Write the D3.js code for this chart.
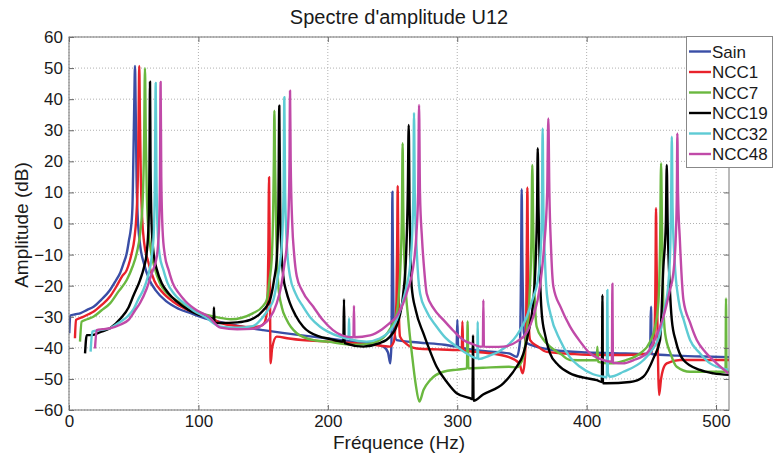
<!DOCTYPE html>
<html><head><meta charset="utf-8">
<script src="https://cdn.jsdelivr.net/npm/d3@7"></script>
<style>
html,body{margin:0;padding:0;background:#fff;}
text{font-family:Arial,"Liberation Sans",sans-serif;fill:#1a1a1a;}
</style></head>
<body><svg id="chart" width="774" height="455"></svg>
<script>
const titleText = "Spectre d'amplitude U12";
const xLabel = "Fréquence (Hz)";
const yLabel = "Amplitude (dB)";
const xTicks = [0,100,200,300,400,500];
const yTicks = [-60,-50,-40,-30,-20,-10,0,10,20,30,40,50,60];
const seriesNames = ["Sain","NCC1","NCC7","NCC19","NCC32","NCC48"];
const seriesColors = ["#3a4ea6","#e8222b","#6ab83f","#000000","#5ecbd4","#c04aa8"];

// [frequency (Hz), amplitude (dB)]
const sain = [[0.2,-35.3],[1,-29.6],[5,-29.2],[9,-28.8],[14,-27.8],[19,-26.8],[25,-24.5],[31.7,-21.4],[36,-18.5],[39.4,-16],[42,-13],[44.6,-9.6],[46.5,-5],[47.7,-2],[49,5],[49.7,20],[50.4,38],[51,50.7],[51.5,38],[52.2,15],[53,3],[55,-7],[58,-13],[62,-18],[67,-21.5],[75,-25],[85,-27.5],[95,-29],[105,-30.5],[115,-31.5],[125,-32.5],[135,-33.3],[150,-34.3],[165,-35.2],[180,-36],[200,-37],[220,-38],[235,-38.8],[243,-39.6],[246.5,-41.5],[248.3,-45],[249.2,-38],[249.6,-10],[249.9,10.2],[250.3,-10],[251,-33],[253.2,-37.5],[270,-38.3],[290,-39],[299.5,-39.6],[300.1,-31],[300.7,-39.7],[320,-41],[340,-41.8],[346,-42.9],[348.5,-38],[349.4,-10],[349.8,11],[350.3,-10],[351.5,-35],[353.7,-38.5],[374,-40.7],[400,-41.5],[430,-41.8],[449,-42],[449.5,-30],[449.8,-26.8],[450.2,-42],[470,-42.5],[490,-42.8],[510,-43]];
const ncc1 = [[4.6,-36.9],[5.4,-31],[10,-30.2],[15,-29.2],[18.8,-28.4],[25,-26.3],[31.7,-23.5],[37,-20],[41,-17],[44.6,-15],[47,-12],[48.4,-9.6],[50.5,-5],[52,2],[53.2,15],[53.8,35],[54.3,50.7],[54.8,35],[55.5,15],[56.5,2],[58,-6],[61,-12],[66,-18.5],[72,-22],[80,-25],[90,-27.5],[100,-29],[110,-30.5],[117,-32],[130,-33],[142,-33.3],[148,-33],[151,-32],[153,-28],[154,-10],[154.6,14.9],[155.1,-10],[155.8,-45],[157,-40],[160.5,-36.4],[170,-37],[180,-37.5],[200,-38],[220,-38.5],[235,-39],[248,-39.6],[251,-38],[253,-25],[253.6,-5],[254,12.1],[254.4,-5],[255,-30],[255.8,-36.4],[260,-38.5],[268.7,-40.2],[285,-40.5],[303.5,-40.7],[304,-31.5],[304.6,-40.8],[320,-41.5],[340,-43],[348,-45],[350.5,-48.2],[352,-45],[353.3,-30],[353.8,-5],[354.2,11.6],[354.6,-5],[355.3,-32],[356.3,-37.5],[362,-39.5],[369.2,-41.3],[390,-42],[407.8,-42.3],[430,-42.3],[449,-41.8],[452,-38],[453,-24.6],[453.3,-10],[453.6,4.9],[454,-10],[454.8,-35],[456,-55.2],[457.5,-50],[459,-47],[461.9,-45],[472.2,-43.9],[490,-43.9],[510,-43.9]];
const ncc7 = [[8.5,-38],[9.8,-31.6],[14,-30.8],[18.8,-30],[25,-28],[31.7,-25.7],[38,-22],[44.6,-18.2],[49,-14],[52.3,-9.6],[55,-3],[57,8],[58,25],[58.7,50],[59.3,30],[60,12],[61,0],[63,-8],[66,-14],[70,-19],[76,-22.5],[84,-25],[93,-27.3],[103,-29],[115,-30.2],[125,-30.8],[142,-28.9],[150,-26.5],[152.8,-24.6],[155,-18],[156.6,-11.7],[157.8,5],[158.3,20],[158.7,36.3],[159.2,20],[160,0],[161.8,-20.3],[164.5,-27],[168.2,-31],[176,-35.3],[188.8,-37.5],[200,-38],[220,-39],[230,-38.8],[240.3,-37.5],[248,-34],[253.2,-28.9],[256.3,-11.7],[257.3,5],[257.8,25.8],[258.3,5],[259.5,-15],[262.2,-31],[265,-42],[268,-52],[270.7,-57.3],[274,-53.5],[279,-50.4],[289.3,-47.7],[300,-47],[307.5,-46.6],[308,-31.5],[308.6,-46.6],[320,-46.4],[340,-46.1],[346,-46.3],[351,-43],[353.5,-35.3],[356,-22],[357.3,-5],[358,18.8],[358.7,0],[359.6,-20],[361.4,-33.2],[366,-37],[371.7,-39.6],[380,-42],[387.2,-43.9],[400,-44],[407.8,-44],[408.3,-39.6],[408.8,-44.5],[418.1,-45],[430,-44],[441.3,-41.8],[449,-38],[453,-33],[455.5,-25],[456.8,-5],[457.5,19.4],[458.2,0],[459.2,-25],[460.6,-35.3],[465,-42],[469.6,-46.1],[479.9,-47.7],[495,-47.7],[507.3,-47.7],[507.7,-24.1],[508.1,-47.7],[510,-47.7]];
const ncc19 = [[12.4,-41.8],[13.7,-35.9],[17.5,-35.9],[25,-34.8],[31.7,-33.7],[40,-30.5],[46,-27],[50,-23],[54.9,-18.2],[58,-14],[60,-9.6],[61.5,0],[62.2,20],[62.6,45.6],[63,20],[63.8,0],[65.5,-10],[68,-15],[72,-19.5],[77,-22.5],[83,-25],[92,-27.7],[100,-29.3],[110,-30.5],[111.8,-31],[112,-27],[112.4,-32],[117,-32],[130,-31.8],[140,-31],[150,-28],[155.3,-24.6],[158.5,-18],[160.5,-11.7],[161.8,5],[162.5,37.9],[163.2,5],[164.3,-10],[165.6,-17],[168,-22],[170.8,-25.7],[175,-29.5],[181,-33.2],[193.8,-36.4],[200,-37],[212,-38],[212.5,-24.4],[213,-38.5],[227.4,-39.6],[240,-38.5],[248,-36.4],[254,-32],[258.3,-22.5],[260.5,-10],[261.8,10],[262.5,31.7],[263.2,5],[264,-12],[264.8,-20.3],[268,-28],[273.8,-35.3],[278,-40],[284.1,-46.1],[292,-51],[299.6,-54.6],[309.9,-56.2],[311.8,-56.5],[312.2,-36],[312.6,-57],[320,-55],[335.6,-51.4],[346,-46],[351,-42],[355,-35],[358.8,-24.6],[360.8,-10],[361.7,5],[362.2,24.2],[362.8,5],[363.8,-15],[365.3,-28.9],[368,-36],[371.7,-41.8],[378,-45.5],[387.2,-48.2],[398,-49.6],[407.8,-50.4],[411.8,-51],[412.2,-23],[412.6,-51.4],[415.5,-51.4],[433.5,-51],[443.8,-49.3],[452,-43],[456.7,-37.5],[459.3,-13.9],[461.2,0],[461.9,18.8],[462.6,0],[464.2,-20],[465.8,-31],[469,-38],[474.8,-43.9],[487.6,-47.1],[498,-48.2],[510,-48.7]];
const ncc32 = [[16.7,-41.2],[18,-34.8],[24,-34.3],[31.7,-33.7],[40,-31.5],[45,-30],[50,-27.5],[54,-24],[57.4,-21.4],[61,-17],[63.9,-10.7],[65.5,-3],[66.4,15],[67,45.2],[67.6,15],[68.5,-2],[70,-10],[73,-15],[76,-19],[81,-22.5],[87,-25],[96,-28],[105,-30],[117,-33.2],[130,-33.5],[142,-33],[150,-30],[155,-27],[157.9,-24.6],[161,-18],[164.3,-7.5],[165.8,10],[166.4,40.6],[167,10],[168.5,-8],[170.8,-17],[175,-22.5],[181,-26.8],[187,-30.5],[194,-33.2],[200,-34.8],[209.4,-36.4],[216,-37],[216.4,-30.5],[216.8,-37.2],[230,-38],[240,-37],[248,-34.5],[253.2,-31],[258,-25],[261.5,-19],[263.5,-13.9],[265.5,0],[266.1,10],[266.6,35.6],[267.2,10],[268.3,-5],[269.5,-15],[271.3,-22.5],[276,-28],[284.1,-33.2],[291,-36.8],[299.6,-39.6],[308,-42],[315.5,-43.4],[315.8,-31.6],[316.2,-43.6],[325,-42.5],[333,-41],[346,-36],[353.7,-30],[358.5,-24],[362.7,-17],[364.8,-6],[365.5,8],[366,30.6],[366.6,5],[367.8,-12],[369.2,-22.5],[372,-29],[379.4,-37.5],[387,-43],[394.9,-46.1],[405,-48.5],[413,-49.3],[415.6,-49.5],[416,-21.4],[416.4,-48],[418,-49.3],[428.4,-47.7],[443.8,-44],[450,-41],[456.7,-35.3],[460.5,-27],[463.2,-19.2],[464.8,-5],[465.3,8],[465.8,27.9],[466.4,5],[468,-12],[471,-24.6],[475,-31],[479.9,-37.5],[487,-41.5],[495.4,-45],[509.5,-47]];
const ncc48 = [[20.1,-40.2],[21.4,-34.3],[26,-34],[31.7,-33.7],[40,-32.5],[46,-31],[51,-28],[55,-25.5],[60,-21],[64,-16],[67.8,-10.7],[69.5,-2],[70.3,15],[70.8,45.5],[71.3,15],[72.3,-2],[74,-10],[77,-15],[80,-19],[85,-22.5],[90,-25],[99,-28],[108,-30],[117,-33.5],[130,-34],[142,-33.9],[150,-32.5],[155,-30.5],[160.5,-25.7],[164,-20],[166.5,-13],[168.2,-7.5],[169.8,5],[170.4,20],[170.8,42.7],[171.3,20],[172.5,0],[174,-10],[176,-17],[180,-21.5],[188.8,-26.8],[196,-31],[204,-34.3],[214.6,-36.4],[219.8,-36.6],[220.2,-26.5],[220.6,-36.6],[232.6,-36],[242,-34],[248,-32],[253,-30],[258,-26],[262,-21],[266,-13.9],[268.5,-3],[269.8,10],[270.5,38.1],[271.2,10],[272.8,-5],[274.5,-15],[276.4,-22.5],[282,-27.5],[289.3,-31],[297,-34.5],[304.7,-37.5],[312,-38.8],[317.6,-39.6],[319.8,-39.6],[320.2,-24.6],[320.6,-39.6],[328,-39.7],[335.6,-39.6],[346,-38],[353.7,-35],[358.8,-30],[364,-20],[367,-8],[369.5,10],[370.4,33.8],[371.2,10],[372.5,-8],[374.3,-20.3],[380,-27],[387.2,-33.2],[395,-38],[402.6,-41.8],[410,-43.5],[419.5,-44.5],[419.9,-19.4],[420.3,-44.8],[428,-45],[436,-44],[446.4,-41.8],[453,-37],[459.3,-30],[464,-22],[467,-16],[469,-3],[469.7,10],[470.1,29],[470.6,10],[472,-5],[474.8,-24.6],[480,-32],[485.1,-37.5],[492,-41.5],[500.5,-45],[509.5,-48.2]];
const seriesData = [sain, ncc1, ncc7, ncc19, ncc32, ncc48];

const svg = d3.select("#chart");
const L = 69, R = 729, T = 37, B = 410;
const x = d3.scaleLinear().domain([0,510]).range([L,R]);
const y = d3.scaleLinear().domain([-60,60]).range([B,T]);

// grid
const grid = svg.append("g");
grid.selectAll("line.v").data(xTicks).join("line")
  .attr("x1",d=>x(d)).attr("x2",d=>x(d)).attr("y1",T).attr("y2",B)
  .attr("stroke","#b0b0b0").attr("stroke-width",1).attr("stroke-dasharray","1,2");
grid.selectAll("line.h").data(yTicks).join("line")
  .attr("x1",L).attr("x2",R).attr("y1",d=>y(d)).attr("y2",d=>y(d))
  .attr("stroke","#b0b0b0").attr("stroke-width",1).attr("stroke-dasharray","1,2");

// clip
svg.append("clipPath").attr("id","clip").append("rect")
  .attr("x",L).attr("y",T).attr("width",R-L).attr("height",B-T);

const line = d3.line().x(d=>x(d[0])).y(d=>y(d[1])).curve(d3.curveMonotoneX);
const lines = svg.append("g").attr("clip-path","url(#clip)");
seriesData.forEach((s,i)=>{
  lines.append("path").datum(s).attr("d",line)
    .attr("fill","none").attr("stroke",seriesColors[i])
    .attr("stroke-width",2.4).attr("stroke-linejoin","round");
});

// axes
const fs = 17;
const xAxis = svg.append("g").attr("transform",`translate(0,${B})`)
  .call(d3.axisBottom(x).tickValues(xTicks).tickFormat(d3.format("d")).tickSize(-5).tickPadding(5));
const yAxis = svg.append("g").attr("transform",`translate(${L},0)`)
  .call(d3.axisLeft(y).tickValues(yTicks).tickFormat(d3.format("d")).tickSize(-5).tickPadding(6));
const xAxisTop = svg.append("g").attr("transform",`translate(0,${T})`)
  .call(d3.axisTop(x).tickValues(xTicks).tickFormat("").tickSize(-5));
const yAxisRight = svg.append("g").attr("transform",`translate(${R},0)`)
  .call(d3.axisRight(y).tickValues(yTicks).tickFormat("").tickSize(-5));
[xAxis,yAxis,xAxisTop,yAxisRight].forEach(g=>{
  g.select(".domain").remove();
  g.selectAll(".tick line").attr("stroke","#666");
  g.selectAll("text").attr("font-size",fs).attr("fill","#1a1a1a")
   .attr("font-family","Arial, 'Liberation Sans', sans-serif");
});
svg.append("rect").attr("x",L).attr("y",T).attr("width",R-L).attr("height",B-T)
  .attr("fill","none").attr("stroke","#777").attr("stroke-width",1);

// titles
svg.append("text").attr("x",(L+R)/2).attr("y",24).attr("text-anchor","middle")
  .attr("font-size",20).text(titleText);
svg.append("text").attr("x",(L+R)/2).attr("y",449).attr("text-anchor","middle")
  .attr("font-size",19).text(xLabel);
svg.append("text").attr("transform","translate(28,225) rotate(-90)").attr("text-anchor","middle")
  .attr("font-size",19).text(yLabel);

// legend
const lg = svg.append("g");
lg.append("rect").attr("x",686.5).attr("y",36.5).attr("width",86).attr("height",131)
  .attr("fill","#fff").attr("stroke","#888").attr("stroke-width",1);
seriesNames.forEach((n,i)=>{
  const yy = 51.5 + i*20.5;
  lg.append("line").attr("x1",689).attr("x2",711).attr("y1",yy).attr("y2",yy)
    .attr("stroke",seriesColors[i]).attr("stroke-width",2.4);
  lg.append("text").attr("x",712).attr("y",yy+6).attr("font-size",17).text(n);
});
</script></body></html>
